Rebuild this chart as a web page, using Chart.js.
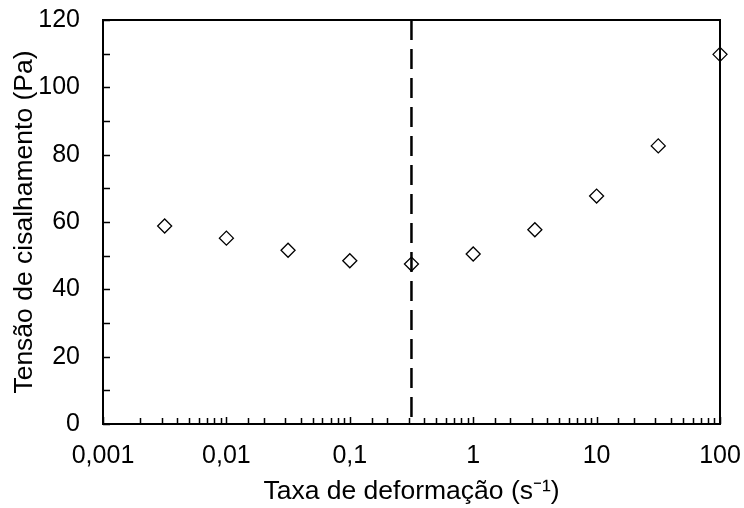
<!DOCTYPE html>
<html>
<head>
<meta charset="utf-8">
<script src="https://cdn.jsdelivr.net/npm/chart.js@4"></script>
<style>
  body { margin: 0; background: #fff; }
  #wrap { width: 744px; height: 508px; }
</style>
</head>
<body>
<div id="wrap"><canvas id="chart1"></canvas></div>
<script>
// shear rate (s-1) vs shear stress (Pa)
const shearRate = [0.00316, 0.01, 0.0316, 0.1, 0.316, 1, 3.16, 10, 31.6, 100];
const shearStress = [58.8, 55.2, 51.6, 48.5, 47.5, 50.5, 57.7, 67.7, 82.6, 109.8];

// vertical dashed marker
const limitRate = [0.316, 0.316];
const limitStress = [120, 0];

const xMin = 0.001, xMax = 100;
const yMin = 0, yMax = 120, yStep = 10;

const font = "'Liberation Sans', Arial, sans-serif";

function decadeLabel(v) {
  const l = Math.log10(v);
  const e = Math.round(l);
  if (Math.abs(l - e) > 1e-6) return '';
  if (e < 0) return '0,' + '0'.repeat(-e - 1) + '1';
  return String(Math.pow(10, e));
}

// frame + inside tick marks
const frame = {
  id: 'frame',
  afterDatasetsDraw(chart) {
    const {ctx, chartArea: a, scales: {x, y}} = chart;
    ctx.save();
    ctx.strokeStyle = '#000';
    ctx.lineWidth = 1.5;
    ctx.beginPath();
    x.ticks.forEach(t => {
      const px = Math.round(x.getPixelForValue(t.value)) + 0.5;
      const major = decadeLabel(t.value) !== '';
      ctx.moveTo(px, a.bottom);
      ctx.lineTo(px, a.bottom - (major ? 7 : 6));
    });
    y.ticks.forEach(t => {
      const py = Math.round(y.getPixelForValue(t.value)) + 0.5;
      ctx.moveTo(a.left, py);
      ctx.lineTo(a.left + 7, py);
    });
    ctx.stroke();
    ctx.lineWidth = 2;
    ctx.strokeRect(a.left, a.top, a.right - a.left, a.bottom - a.top);
    ctx.restore();
  }
};

const ctx = document.getElementById('chart1').getContext('2d');
const myChart = new Chart(ctx, {
  type: 'scatter',
  data: {
    datasets: [{
      label: 'limite',
      data: limitRate.map((v, i) => ({x: v, y: limitStress[i]})),
      showLine: true,
      borderColor: '#000',
      borderWidth: 2.5,
      borderDash: [20, 9],
      pointRadius: 0,
      clip: false
    }, {
      label: 'Tensão',
      data: shearRate.map((v, i) => ({x: v, y: shearStress[i]})),
      pointStyle: 'rectRot',
      pointRadius: 7,
      pointHoverRadius: 7,
      borderColor: '#000',
      backgroundColor: 'rgba(0,0,0,0)',
      borderWidth: 1.3,
      clip: false
    }]
  },
  options: {
    responsive: true,
    maintainAspectRatio: false,
    animation: false,
    layout: { padding: { top: 20, right: 24, left: 0, bottom: 0 } },
    plugins: { legend: { display: false }, tooltip: { enabled: false } },
    scales: {
      x: {
        type: 'logarithmic',
        min: xMin,
        max: xMax,
        grid: { display: false, drawTicks: false },
        border: { display: false },
        ticks: {
          autoSkip: false,
          maxRotation: 0,
          padding: 17,
          color: '#000',
          font: { family: font, size: 25 },
          callback: v => decadeLabel(v)
        },
        title: {
          display: true,
          text: 'Taxa de deformação (s⁻¹)',
          color: '#000',
          font: { family: font, size: 26.5 },
          padding: { top: 0, bottom: 0 }
        },
        afterFit: s => {
          s.height = 84;
          s.paddingLeft = 0;
          s.paddingRight = 0;
        }
      },
      y: {
        min: yMin,
        max: yMax,
        grid: { display: false, drawTicks: false },
        border: { display: false },
        ticks: {
          stepSize: yStep,
          padding: 23,
          color: '#000',
          font: { family: font, size: 25 },
          callback: v => (v % 20 === 0 ? v : '')
        },
        title: {
          display: true,
          text: 'Tensão de cisalhamento (Pa)',
          color: '#000',
          font: { family: font, size: 26.5 },
          padding: { top: 9, bottom: 0 }
        },
        afterFit: s => {
          s.width = 103;
          s.paddingTop = 0;
          s.paddingBottom = 0;
        }
      }
    }
  },
  plugins: [frame]
});
</script>
</body>
</html>
